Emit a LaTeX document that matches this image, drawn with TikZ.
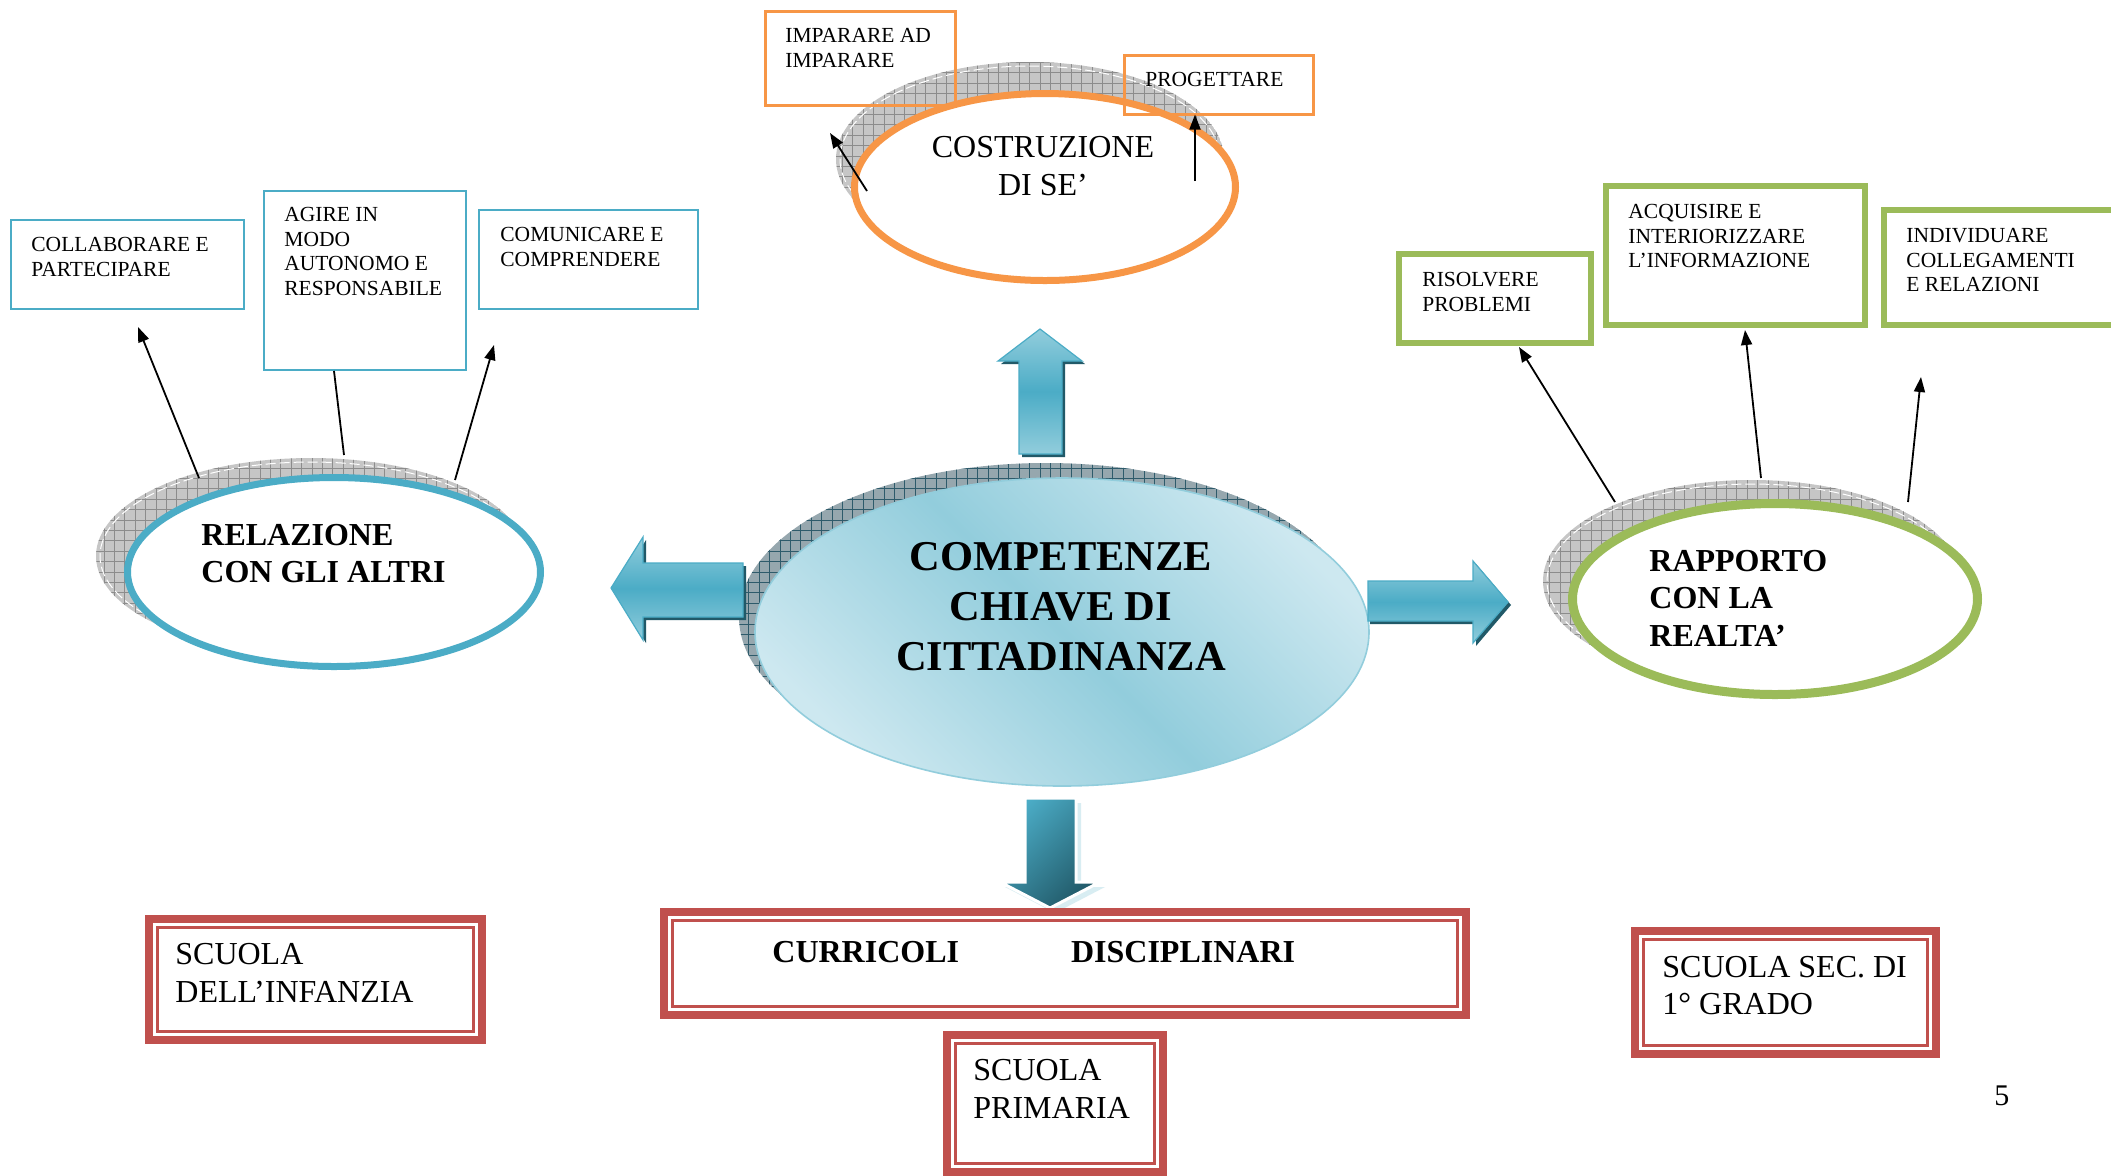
\documentclass[tikz,border=0pt]{standalone}
\usepackage{fontspec}
\setmainfont{Liberation Serif}
\usetikzlibrary{arrows.meta,shapes.geometric,calc}
\definecolor{cblue}{HTML}{4BACC6}
\definecolor{clblue}{HTML}{92CDDC}
\definecolor{cvlblue}{HTML}{CDE8F0}
\definecolor{corange}{HTML}{F79646}
\definecolor{cgreen}{HTML}{9BBB59}
\definecolor{cred}{HTML}{C0504D}
\definecolor{cdark}{HTML}{215968}
\definecolor{shgray}{HTML}{C6C6C6}
\definecolor{shgrid}{HTML}{8C8C8C}
\definecolor{shcent}{HTML}{96A7AE}
\definecolor{shcentgrid}{HTML}{2E5B6B}
\newcommand\smalltxt{\fontsize{10.75}{12.3}\selectfont}
\newcommand\midtxt{\fontsize{16}{18.75}\selectfont}
\newcommand\midbold{\fontsize{16}{18.75}\selectfont\bfseries}
\newcommand\bigtxt{\fontsize{21.25}{25}\selectfont\bfseries}
\newcommand\grayshadow[5]{%
  \begin{scope}
    \clip #1 ellipse [x radius=#2, y radius=#3];
    \fill[#4] #1 ellipse [x radius=#2, y radius=#3];
    \draw[#5, line width=0.45pt, step=5.2pt] ($#1+(-#2-20,-#3-20)$) grid ($#1+(#2+20,#3+20)$);
  \end{scope}}
\begin{document}
\begin{tikzpicture}[x=0.5pt,y=-0.5pt,
  bluebox/.style={draw=cblue, line width=1pt, rectangle, inner sep=0pt, outer sep=0pt, anchor=north west},
  orangebox/.style={draw=corange, line width=1.25pt, rectangle, inner sep=0pt, outer sep=0pt, anchor=north west},
  greenbox/.style={draw=cgreen, line width=3pt, rectangle, inner sep=0pt, outer sep=0pt, anchor=north west},
  redbox/.style={draw=cred, line width=4pt, rectangle, inner sep=0pt, outer sep=0pt, anchor=north west},
  redinner/.style={draw=cred, line width=1.4pt},
  txtsmall/.style={anchor=north west, inner sep=0pt, align=left, font=\smalltxt},
  txtmid/.style={anchor=north west, inner sep=0pt, align=left, font=\midtxt},
  txtmidb/.style={anchor=north west, inner sep=0pt, align=left, font=\midbold},
  ring/.style={ellipse, fill=white, inner sep=0pt, outer sep=0pt},
  conn/.style={-{Triangle[length=7.5pt,width=5.5pt]}, line width=0.9pt, black},
  plainconn/.style={line width=0.9pt, black},
  blockarrow/.style={top color=clblue, bottom color=clblue, middle color=cblue, draw=cblue, line width=0.6pt},
  blockshadow/.style={fill=cdark}
]
\useasboundingbox (0,0) rectangle (2111,1175);
\fill[white] (0,0) rectangle (2111,1175);

% ---------- shadows of the ellipses ----------
\grayshadow{(1030,159)}{194}{97}{shgray}{shgrid}
\draw[white, line width=0.5pt, dash pattern=on 5pt off 2pt] (1030,159) ellipse [x radius=190, y radius=93];
\grayshadow{(311,556)}{215}{98}{shgray}{shgrid}
\draw[white, line width=0.5pt, dash pattern=on 5pt off 2pt] (311,556) ellipse [x radius=211, y radius=94];
\grayshadow{(1752,581)}{209}{101}{shgray}{shgrid}
\draw[white, line width=0.5pt, dash pattern=on 5pt off 2pt] (1752,581) ellipse [x radius=205, y radius=97];
\grayshadow{(1046,617)}{307}{154}{shcent}{shcentgrid}

% ---------- ellipses ----------
\node[ring, draw=corange, line width=3.5pt, minimum width=190.5pt, minimum height=93.5pt] (costr) at (1045,187) {};
\node[ring, draw=cblue, line width=3.5pt, minimum width=206.5pt, minimum height=94.5pt] (relaz) at (334,572) {};
\node[ring, draw=cgreen, line width=4.5pt, minimum width=202.5pt, minimum height=95.5pt] (rapp) at (1775,599) {};
\node[ellipse, inner sep=0pt, outer sep=0pt, draw=clblue, line width=0.8pt,
      left color=cvlblue, right color=cvlblue, middle color=clblue, shading angle=-45,
      minimum width=307pt, minimum height=154pt] (central) at (1062,632) {};

% ---------- block arrows ----------
% up
\fill[blockshadow] (1022,457) -- (1022,364) -- (1001,364) -- (1043,332) -- (1085,364) -- (1065,364) -- (1065,457) -- cycle;
\shade[blockarrow] (1019,454) -- (1019,361) -- (998,361) -- (1040,329) -- (1082,361) -- (1062,361) -- (1062,454) -- cycle;
% left
\fill[blockshadow] (746,566) -- (646,566) -- (646,540) -- (614,591) -- (646,643) -- (646,620) -- (746,620) -- cycle;
\shade[blockarrow] (743,563) -- (643,563) -- (643,537) -- (611,588) -- (643,640) -- (643,617) -- (743,617) -- cycle;
% right
\fill[blockshadow] (1370,584) -- (1476,584) -- (1476,564) -- (1511,605) -- (1476,646) -- (1476,624) -- (1370,624) -- cycle;
\shade[blockarrow] (1368,581) -- (1473,581) -- (1473,561) -- (1508,602) -- (1473,643) -- (1473,621) -- (1368,621) -- cycle;
% down
\fill[clblue, opacity=0.35] (1030,803) -- (1081,803) -- (1081,887) -- (1105,887) -- (1055,913) -- (1005,887) -- (1030,887) -- cycle;
\shade[left color=cblue, right color=cdark, shading angle=45, draw=white, line width=1.5pt]
  (1025,798) -- (1076,798) -- (1076,882) -- (1100,882) -- (1050,908) -- (1000,882) -- (1025,882) -- cycle;

% ---------- small boxes ----------
\node[orangebox, minimum width=95pt, minimum height=47pt] (impar) at (765.5,11.5) {};
\node[orangebox, minimum width=94.5pt, minimum height=29.5pt] (prog) at (1124.5,55.5) {};
\node[bluebox, minimum width=116.5pt, minimum height=44.5pt] (collab) at (11,220) {};
\node[bluebox, minimum width=101pt, minimum height=89.5pt] (agire) at (264,191) {};
\node[bluebox, minimum width=109.5pt, minimum height=49.5pt] (comun) at (479,210) {};
\node[greenbox, minimum width=96pt, minimum height=44.5pt] (risol) at (1399,254) {};
\node[greenbox, minimum width=129.5pt, minimum height=69.5pt] (acq) at (1606,186) {};
\node[greenbox, minimum width=119pt, minimum height=57.5pt] (indiv) at (1884,210) {};

\node[txtsmall] (timpar) at (785,27.8) {IMPARARE AD\\IMPARARE};
\node[txtsmall] (tprog) at (1145,71.8) {PROGETTARE};
\node[txtsmall] (tcollab) at (31,236.8) {COLLABORARE E\\PARTECIPARE};
\node[txtsmall] (tagire) at (284,206.8) {AGIRE IN\\MODO\\AUTONOMO E\\RESPONSABILE};
\node[txtsmall] (tcomun) at (500,226.8) {COMUNICARE E\\COMPRENDERE};
\node[txtsmall] (trisol) at (1422,271.8) {RISOLVERE\\PROBLEMI};
\node[txtsmall] (tacq) at (1628,203.8) {ACQUISIRE E\\INTERIORIZZARE\\L’INFORMAZIONE};
\node[txtsmall] (tindiv) at (1906,227.8) {INDIVIDUARE\\COLLEGAMENTI\\E RELAZIONI};

% ---------- ellipse texts ----------
\node[anchor=north, inner sep=0pt, align=center, font=\fontsize{16}{19}\selectfont] (tcostr) at (1043,135.8) {COSTRUZIONE\\DI SE’};
\node[txtmidb, font=\fontsize{16}{18.5}\selectfont\bfseries] (trelaz) at (201,523.8) {RELAZIONE\\CON GLI ALTRI};
\node[txtmidb] (trapp) at (1649,549.8) {RAPPORTO\\CON LA\\REALTA’};
\node[anchor=north, inner sep=0pt, align=center, font=\bigtxt] (tcentral) at (1061,541.9) {COMPETENZE\\CHIAVE DI\\CITTADINANZA};

% ---------- red double boxes ----------
\node[redbox, minimum width=166.5pt, minimum height=60.5pt] (infanzia) at (149,919) {};
\node[redbox, minimum width=401pt, minimum height=51.5pt] (curric) at (664,912) {};
\node[redbox, minimum width=108pt, minimum height=68.5pt] (primaria) at (947,1035) {};
\node[redbox, minimum width=150.5pt, minimum height=61.5pt] (sec) at (1635,931) {};
\foreach \b in {infanzia,curric,primaria,sec}{
  \draw[redinner] ([xshift=4.25pt,yshift=-4.25pt]\b.north west) rectangle ([xshift=-4.25pt,yshift=4.25pt]\b.south east);
}
\node[txtmid, font=\fontsize{16}{19}\selectfont] (tinfanzia) at (175,942.8) {SCUOLA\\DELL’INFANZIA};
\node[txtmidb] (tcurric) at (772,940.8) {CURRICOLI\hspace*{56pt}DISCIPLINARI};
\node[txtmid, font=\fontsize{16}{19}\selectfont] (tprimaria) at (973,1058.8) {SCUOLA\\PRIMARIA};
\node[txtmid] (tsec) at (1662,955.8) {SCUOLA SEC. DI\\1° GRADO};
\node[anchor=north west, inner sep=0pt, font=\fontsize{15}{18}\selectfont] (pagenum) at (1994,1085) {5};

% ---------- connectors ----------
\coordinate (c1s) at (867,191);  \coordinate (c1e) at (830,133);
\coordinate (c2s) at (1195,181);
\coordinate (r1s) at (199,478);  \coordinate (r1e) at (138,327);
\coordinate (r2s) at (344,455);
\coordinate (r3s) at (455,480);  \coordinate (r3e) at (494,345);
\coordinate (p1s) at (1615,502); \coordinate (p1e) at (1519,347);
\coordinate (p2s) at (1761,478); \coordinate (p2e) at (1745,330);
\coordinate (p3s) at (1908,502); \coordinate (p3e) at (1921,377);

\draw[conn] (c1s) -- (c1e);
\draw[conn] (c2s) -- (c2s |- prog.south);
\draw[conn] (r1s) -- (r1e);
\draw[plainconn] (r2s) -- (334,371);
\draw[conn] (r3s) -- (r3e);
\draw[conn] (p1s) -- (p1e);
\draw[conn] (p2s) -- (p2e);
\draw[conn] (p3s) -- (p3e);
\end{tikzpicture}
\end{document}
